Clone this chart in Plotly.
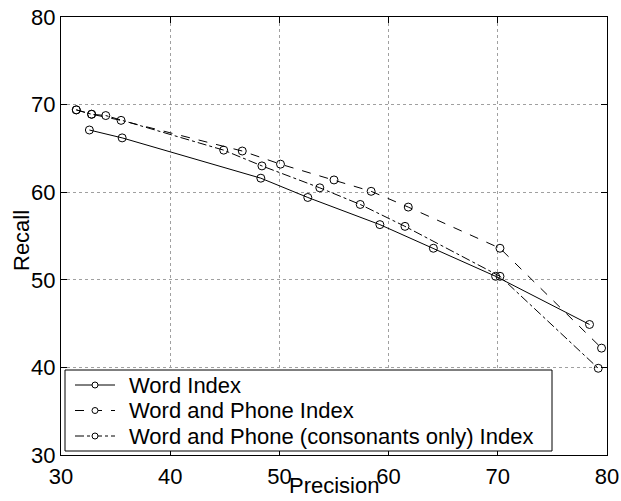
import plotly.graph_objects as go

word_x = [32.6, 35.6, 48.3, 52.6, 59.2, 64.1, 69.8, 78.4]
word_y = [67.1, 66.2, 61.6, 59.4, 56.3, 53.6, 50.4, 44.9]

phone_x = [31.4, 32.8, 35.5, 46.6, 50.1, 55.0, 58.4, 61.8, 70.2, 79.5]
phone_y = [69.4, 68.9, 68.2, 64.7, 63.2, 61.4, 60.1, 58.3, 53.6, 42.2]

cons_x = [31.4, 32.8, 34.1, 44.9, 48.4, 53.7, 57.4, 61.5, 70.2, 79.2]
cons_y = [69.4, 68.9, 68.75, 64.8, 63.0, 60.5, 58.6, 56.1, 50.4, 39.9]

names = ["Word Index", "Word and Phone Index", "Word and Phone (consonants only) Index"]
dashes = ["solid", "dash", "dashdot"]
ticks = [30, 40, 50, 60, 70, 80]

W, H = 621, 501
ML, MR, MT, MB = 61, 14, 17, 46
PW, PH = W - ML - MR, H - MT - MB


def px_x(p):
    return (p - ML) / PW


def px_y(p):
    return (H - MB - p) / PH


FONT = "Liberation Sans, Arial, sans-serif"

fig = go.Figure()
for xs, ys, nm, dash in zip([word_x, phone_x, cons_x], [word_y, phone_y, cons_y], names, dashes):
    fig.add_trace(go.Scatter(
        x=xs, y=ys, name=nm, mode="lines+markers", showlegend=False,
        line=dict(color="black", width=1, dash=dash),
        marker=dict(symbol="circle-open", size=8, color="black", line=dict(width=1, color="black")),
    ))

axis_common = dict(
    showline=True, linecolor="black", linewidth=1, mirror="ticks",
    ticks="inside", ticklen=6, tickcolor="black",
    showgrid=True, gridcolor="#a0a0a0", griddash="dot", gridwidth=1,
    zeroline=False, tickvals=ticks, automargin=False,
    tickfont=dict(size=22, color="black", family=FONT),
)

# manual legend box (matches the reference's compact row spacing)
shapes = [dict(type="rect", xref="paper", yref="paper",
               x0=px_x(65), x1=px_x(552), y0=px_y(451), y1=px_y(370),
               line=dict(color="black", width=1), fillcolor="white", layer="above")]
annotations = []
row_px = [385, 410.5, 436]
for nm, dash, ry in zip(names, dashes, row_px):
    yy = px_y(ry)
    shapes.append(dict(type="line", xref="paper", yref="paper",
                       x0=px_x(75), x1=px_x(115), y0=yy, y1=yy,
                       line=dict(color="black", width=1, dash=dash), layer="above"))
    shapes.append(dict(type="circle", xref="paper", yref="paper",
                       xsizemode="pixel", ysizemode="pixel",
                       xanchor=px_x(95), yanchor=yy, x0=-3, x1=3, y0=-3, y1=3,
                       line=dict(color="black", width=1), fillcolor="white", layer="above"))
    annotations.append(dict(xref="paper", yref="paper", x=px_x(127), y=yy,
                            xanchor="left", yanchor="middle", showarrow=False,
                            text=nm, font=dict(size=22, color="black", family=FONT)))

annotations.append(dict(xref="paper", yref="paper", x=px_x(21), y=px_y(241),
                        xanchor="center", yanchor="middle", showarrow=False, textangle=-90,
                        text="Recall", font=dict(size=22, color="black", family=FONT)))
annotations.append(dict(xref="paper", yref="paper", x=0.5, y=px_y(486),
                        xanchor="center", yanchor="middle", showarrow=False,
                        text="Precision", font=dict(size=22, color="black", family=FONT)))

fig.update_layout(
    width=W, height=H,
    margin=dict(l=ML, r=MR, t=MT, b=MB),
    paper_bgcolor="white", plot_bgcolor="white",
    font=dict(family=FONT, size=22, color="black"),
    xaxis=dict(range=[30, 80], ticklabelstandoff=2, **axis_common),
    yaxis=dict(range=[30, 80], **axis_common),
    shapes=shapes,
    annotations=annotations,
    showlegend=False,
)

fig.write_html("out.html", config={"displayModeBar": False},
               post_script="document.body.style.margin='0';document.body.style.padding='0';document.body.style.overflow='hidden';")
